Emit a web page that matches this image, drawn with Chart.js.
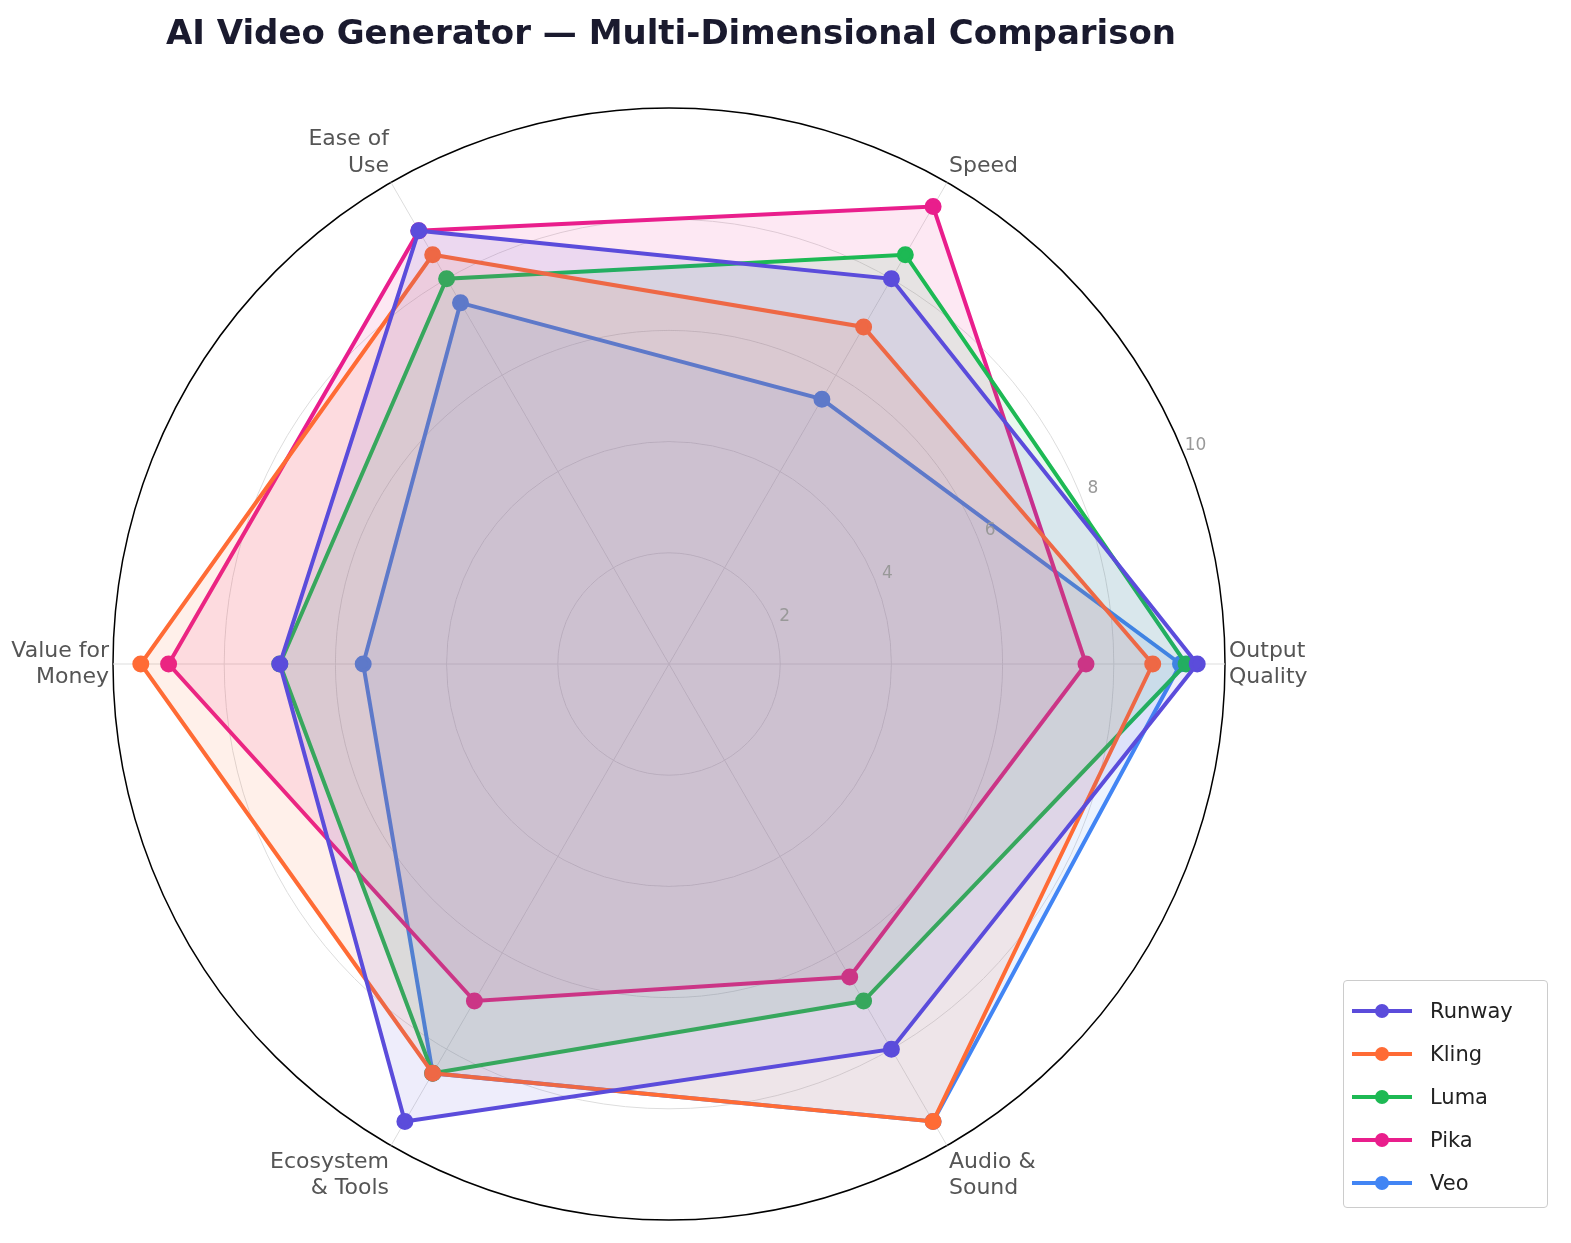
<!DOCTYPE html>
<html><head><meta charset="utf-8">
<script src="https://cdn.jsdelivr.net/npm/chart.js@4.4.1/dist/chart.umd.min.js"></script>
<style>
body{margin:0;background:#fff;font-family:"DejaVu Sans",sans-serif;}
#wrap{position:absolute;left:0;top:0;width:1571px;height:1243px;}
#title{position:absolute;left:0;width:1342px;top:12px;text-align:center;font-weight:bold;font-size:34px;color:#1a1a2e;}
#legend{position:absolute;left:1343px;top:980px;width:205px;height:228px;border:1px solid #ccc;border-radius:4px;box-sizing:border-box;padding:8px 0 0 8px;}
.li{display:flex;align-items:center;height:43px;font-size:21px;color:#222;}
.sw{position:relative;width:60px;height:20px;margin-right:18px;}
.sw i{position:absolute;left:0;top:8px;width:60px;height:4px;}
.sw b{position:absolute;left:23px;top:3px;width:14px;height:14px;border-radius:50%;}
</style></head><body>
<div id="wrap"><canvas id="c" width="1571" height="1243"></canvas></div>
<div id="title">AI Video Generator — Multi-Dimensional Comparison</div>
<div id="legend"></div>
<script>
const labels = [["Output","Quality"],["Audio &","Sound"],["Ecosystem","& Tools"],["Value for","Money"],["Ease of","Use"],["Speed"]];
const seriesNames = ["Runway","Kling","Luma","Pika","Veo"];
const runway = [9.5, 8.0, 9.5, 7.0, 9.0, 8.0];
const kling  = [8.7, 9.5, 8.5, 9.5, 8.5, 7.0];
const luma   = [9.3, 7.0, 8.5, 7.0, 8.0, 8.5];
const pika   = [7.5, 6.5, 7.0, 9.0, 9.0, 9.5];
const veo    = [9.2, 9.5, 8.5, 5.5, 7.5, 5.5];
const tickValues = [2,4,6,8,10];
const colors = ["#5B4CDB","#FF6B35","#1DB954","#E91E8C","#4285F4"];
const fills = ["rgba(91,76,219,0.1)","rgba(255,107,53,0.1)","rgba(29,185,84,0.1)","rgba(233,30,140,0.1)","rgba(66,133,244,0.1)"];
const data=[runway,kling,luma,pika,veo];
const lg=document.getElementById('legend');
seriesNames.forEach((n,i)=>{lg.innerHTML+=`<div class="li"><div class="sw"><i style="background:${colors[i]}"></i><b style="background:${colors[i]}"></b></div>${n}</div>`;});
const tickPlugin={id:'tk',afterDatasetsDraw(ch){const s=ch.scales.r,ctx=ch.ctx;ctx.save();ctx.font='17px "DejaVu Sans"';ctx.fillStyle='#999';ctx.textAlign='center';ctx.textBaseline='middle';
const a=-22.5*Math.PI/180;tickValues.forEach(v=>{const d=s.getDistanceFromCenterForValue(v)+14;ctx.fillText(String(v),s.xCenter+d*Math.cos(a),s.yCenter+d*Math.sin(a));});ctx.restore();}};
new Chart(document.getElementById('c'),{type:'radar',
data:{labels,datasets:seriesNames.map((n,i)=>({label:n,data:data[i],borderColor:colors[i],backgroundColor:fills[i],fill:true,borderWidth:4,pointRadius:6.5,pointBackgroundColor:colors[i],pointBorderColor:colors[i]}))},
options:{responsive:false,animation:false,layout:{padding:{left:0,right:233,top:108,bottom:22}},
plugins:{legend:{display:false},tooltip:{enabled:false}},
scales:{r:{min:0,max:10,startAngle:90,ticks:{display:false,stepSize:2},
grid:{circular:true,color:c=>c.index===5?'#000':'#ddd',lineWidth:c=>c.index===5?1.5:1},
angleLines:{color:'#ddd'},
pointLabels:{font:{size:22,family:'DejaVu Sans'},color:'#555',padding:4}}}},
plugins:[tickPlugin]});
</script></body></html>
